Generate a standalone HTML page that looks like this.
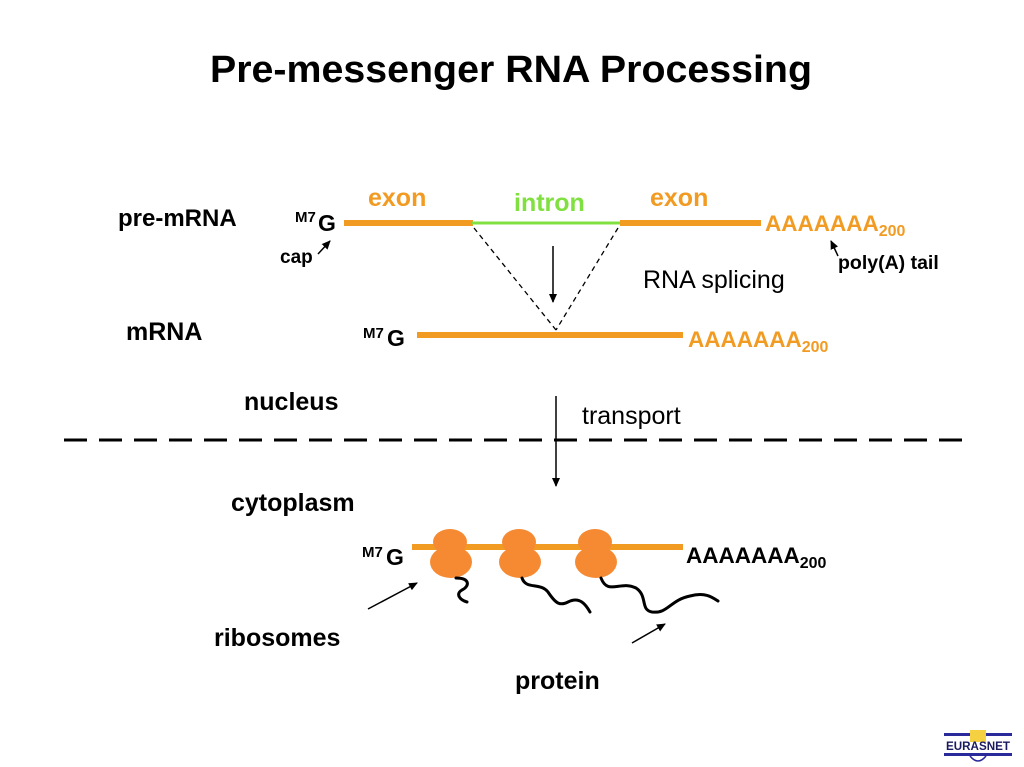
<!DOCTYPE html>
<html><head><style>html,body{margin:0;padding:0;background:#fff}svg{display:block}</style></head>
<body>
<svg width="1024" height="767" viewBox="0 0 1024 767" xmlns="http://www.w3.org/2000/svg" font-family="Liberation Sans, sans-serif">
<defs>
<marker id="ah" markerWidth="10" markerHeight="10" refX="8" refY="5" orient="auto" markerUnits="userSpaceOnUse"><path d="M0,1 L9,5 L0,9 z" fill="#000"/></marker>
</defs>
<rect width="1024" height="767" fill="#fff"/>
<text x="210" y="82" font-size="38" font-weight="bold" textLength="602" lengthAdjust="spacingAndGlyphs">Pre-messenger RNA Processing</text>

<!-- pre-mRNA -->
<text x="118" y="226" font-size="24" font-weight="bold">pre-mRNA</text>
<text x="295" y="222" font-size="15" font-weight="bold">M7</text>
<text x="318" y="231" font-size="23" font-weight="bold">G</text>
<line x1="344" y1="223" x2="473" y2="223" stroke="#f29b22" stroke-width="6"/>
<line x1="472" y1="223" x2="621" y2="223" stroke="#80e040" stroke-width="3"/>
<line x1="620" y1="223" x2="761" y2="223" stroke="#f29b22" stroke-width="6"/>
<text x="368" y="206" font-size="25" font-weight="bold" fill="#f29b22">exon</text>
<text x="514" y="211" font-size="25" font-weight="bold" fill="#80e040">intron</text>
<text x="650" y="206" font-size="25" font-weight="bold" fill="#f29b22">exon</text>
<text x="765" y="231" font-size="22.5" font-weight="bold" fill="#f29b22">AAAAAAA<tspan font-size="16" dy="5">200</tspan></text>
<text x="280" y="263" font-size="19" font-weight="bold">cap</text>
<line x1="318" y1="254" x2="330" y2="241" stroke="#000" stroke-width="1.5" marker-end="url(#ah)"/>
<text x="838" y="269" font-size="19.5" font-weight="bold">poly(A) tail</text>
<line x1="838" y1="256" x2="831" y2="241" stroke="#000" stroke-width="1.5" marker-end="url(#ah)"/>

<line x1="474" y1="228" x2="556" y2="330" stroke="#000" stroke-width="1.3" stroke-dasharray="5,4"/>
<line x1="618" y1="228" x2="556" y2="330" stroke="#000" stroke-width="1.3" stroke-dasharray="5,4"/>
<line x1="553" y1="246" x2="553" y2="302" stroke="#000" stroke-width="1.5" marker-end="url(#ah)"/>
<text x="643" y="288" font-size="25">RNA splicing</text>

<!-- mRNA -->
<text x="126" y="340" font-size="25" font-weight="bold">mRNA</text>
<text x="363" y="338" font-size="15" font-weight="bold">M7</text>
<text x="387" y="346" font-size="23" font-weight="bold">G</text>
<line x1="417" y1="335" x2="683" y2="335" stroke="#f29b22" stroke-width="6"/>
<text x="688" y="347" font-size="22.5" font-weight="bold" fill="#f29b22">AAAAAAA<tspan font-size="16" dy="5">200</tspan></text>

<text x="244" y="410" font-size="25" font-weight="bold">nucleus</text>
<text x="582" y="424" font-size="25">transport</text>
<line x1="556" y1="396" x2="556" y2="486" stroke="#000" stroke-width="1.5" marker-end="url(#ah)"/>
<line x1="64" y1="440" x2="964" y2="440" stroke="#000" stroke-width="3" stroke-dasharray="23,12"/>
<text x="231" y="511" font-size="25" font-weight="bold">cytoplasm</text>

<!-- cytoplasm mRNA -->
<text x="362" y="557" font-size="15" font-weight="bold">M7</text>
<text x="386" y="565" font-size="23" font-weight="bold">G</text>
<line x1="412" y1="547" x2="683" y2="547" stroke="#f29b22" stroke-width="6"/>
<text x="686" y="563" font-size="22.5" font-weight="bold">AAAAAAA<tspan font-size="16" dy="5">200</tspan></text>
<g fill="#f58a33">
<ellipse cx="450" cy="542" rx="17" ry="13"/><ellipse cx="451" cy="562" rx="21" ry="16"/>
<ellipse cx="519" cy="542" rx="17" ry="13"/><ellipse cx="520" cy="562" rx="21" ry="16"/>
<ellipse cx="595" cy="542" rx="17" ry="13"/><ellipse cx="596" cy="562" rx="21" ry="16"/>
</g>
<g fill="none" stroke="#000" stroke-width="3" stroke-linecap="round">
<path d="M456,578 C470,578 470,586 462,590 C455,594 460,600 467,602"/>
<path d="M522,578 C526,590 540,582 548,592 C556,604 560,606 568,602 C580,596 586,605 590,612"/>
<path d="M601,578 C608,596 620,580 636,588 C648,596 640,610 652,612 C668,614 670,600 690,596 C705,592 712,597 718,601"/>
</g>
<line x1="368" y1="609" x2="417" y2="583" stroke="#000" stroke-width="1.5" marker-end="url(#ah)"/>
<line x1="632" y1="643" x2="665" y2="624" stroke="#000" stroke-width="1.5" marker-end="url(#ah)"/>
<text x="214" y="646" font-size="25" font-weight="bold">ribosomes</text>
<text x="515" y="689" font-size="25" font-weight="bold">protein</text>

<!-- logo -->
<rect x="944" y="733" width="68" height="3" fill="#2a2a9a"/>
<rect x="944" y="753" width="68" height="3" fill="#2a2a9a"/>
<rect x="970" y="730" width="16" height="12" fill="#f5d040"/>
<text x="946" y="750" font-size="12" font-weight="bold" fill="#1a1a60" textLength="64" lengthAdjust="spacingAndGlyphs">EURASNET</text>
<path d="M970,756 Q978,766 986,756" fill="none" stroke="#2a2a9a" stroke-width="1.5"/>
</svg>
</body></html>
